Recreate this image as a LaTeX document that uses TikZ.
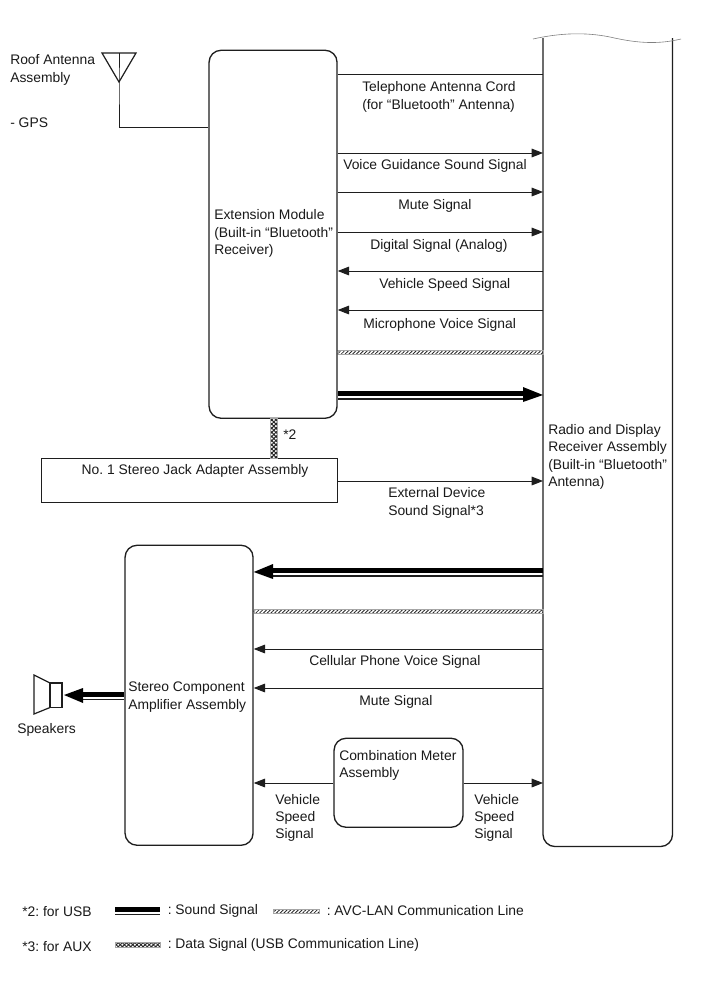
\documentclass[tikz,border=0pt]{standalone}
\usepackage{fontspec}
\setmainfont{Liberation Sans}
\usetikzlibrary{arrows.meta,patterns.meta}
\definecolor{ink}{HTML}{1E1E1E}
\definecolor{txt}{HTML}{1A1A1A}
\tikzset{
  x=0.75pt,y=-0.75pt,
  lbl/.style={anchor=west,align=left,inner sep=0pt,text=txt,font=\fontsize{10.4pt}{13pt}\selectfont\frenchspacing},
  clbl/.style={lbl,anchor=center,align=center},
  box/.style={draw=ink,line width=1pt,rounded corners=9pt,inner sep=0pt,anchor=north west},
  wire/.style={draw=ink,line width=0.7pt},
  sig/.style={wire,-{Stealth[length=8.5pt,width=6.5pt,inset=0pt]}},
  avc/.style={draw=gray!70,line width=0.3pt,pattern={Lines[angle=45,distance=2pt,line width=0.65pt]},pattern color=black!85},
  data/.style={draw=gray!70,line width=0.3pt,pattern={Hatch[angle=45,distance=2.2pt,line width=0.75pt]},pattern color=black!85},
}
\begin{document}
\begin{tikzpicture}
\useasboundingbox (0,0) rectangle (713,982);
\fill[white] (0,0) rectangle (713,982);

% Boxes
\node[box,minimum width=96pt,minimum height=276pt] (ext) at (208.4,49.6) {};
\node[lbl] (exttxt) at (214,233.5) {Extension Module\\(Built-in “Bluetooth”\\Receiver)};
\node[box,rounded corners=0pt,minimum width=222pt,minimum height=33pt] (jack) at (40.6,457.6) {};
\node[clbl] (jacktxt) at (195,471) {No. 1 Stereo Jack Adapter Assembly};
\node[box,minimum width=96pt,minimum height=225pt] (amp) at (124.4,544.6) {};
\node[lbl] (amptxt) at (128,697) {Stereo Component\\Amplifier Assembly};
\node[box,minimum width=96.75pt,minimum height=66.75pt] (meter) at (333.4,737.6) {};
\node[lbl] (metertxt) at (339,765.5) {Combination Meter\\Assembly};

% Radio: open at the top
\node[inner sep=0pt,minimum width=96.75pt,minimum height=606pt,anchor=north west] (radio) at (543,38) {};
\draw[ink,line width=1pt,rounded corners=9pt] (radio.north west) -- (radio.south west) -- (radio.south east) -- (radio.north east);
\draw[gray,line width=0.45pt] (533,39) .. controls (560,33) and (585,32) .. (610,37)
   .. controls (640,44) and (660,44) .. (681,39);
\node[lbl] (radiotxt) at (548,457) {Radio and Display\\Receiver Assembly\\(Built-in “Bluetooth”\\Antenna)};

% Antenna
\coordinate (antL) at (102,53);
\coordinate (antR) at (136,53);
\coordinate (antT) at (119,82);
\coordinate (antTop) at (119,53);
\draw[ink,line width=0.9pt,line join=miter] (antL) -- (antR) -- (antT) -- cycle;
\draw[wire] (antTop) -- (antT) |- (ext.west |- 0,127);
\node[lbl] (roof) at (10,70) {Roof Antenna\\Assembly};
\node[lbl] (gps) at (10,122.5) {- GPS};

% Signal lines from the extension module
\draw[wire] (ext.east |- 0,74) -- (radio.west |- 0,74);
\node[lbl] (tel) at (362,97) {Telephone Antenna Cord\\(for “Bluetooth” Antenna)};
\draw[sig] (ext.east |- 0,153) -- (radio.west |- 0,153);
\node[lbl] (voice) at (343,166) {Voice Guidance Sound Signal};
\draw[sig] (ext.east |- 0,192) -- (radio.west |- 0,192);
\node[lbl] (mute1) at (398,206) {Mute Signal};
\draw[sig] (ext.east |- 0,232) -- (radio.west |- 0,232);
\node[lbl] (digital) at (370,246) {Digital Signal (Analog)};
\draw[sig] (radio.west |- 0,271) -- (ext.east |- 0,271);
\node[lbl] (speed) at (379,285) {Vehicle Speed Signal};
\draw[sig] (radio.west |- 0,310) -- (ext.east |- 0,310);
\node[lbl] (mic) at (363,325) {Microphone Voice Signal};

% AVC-LAN, upper
\path[avc] (ext.east |- 0,350) rectangle (radio.west |- 0,354);

% Sound signal, upper
\fill[black] (ext.east |- 0,391) rectangle (524,395.5);
\fill[ink] (ext.east |- 0,398) rectangle (524,399.5);
\fill[black] (radio.west |- 0,395) -- (523,387) -- (523,402) -- cycle;

% Data USB
\path[data] (270,418) rectangle (277,458);
\node[lbl] (st2) at (283,435) {*2};

% External device
\draw[sig] (jack.east |- 0,481) -- (radio.west |- 0,481);
\node[lbl] (extdev) at (388,503) {External Device\\Sound Signal*3};

% Sound signal, lower
\fill[black] (radio.west |- 0,568) rectangle (273,572.5);
\fill[ink] (radio.west |- 0,575) rectangle (273,576.5);
\fill[black] (amp.east |- 0,572) -- (273,564) -- (273,579) -- cycle;

% AVC-LAN, lower
\path[avc] (amp.east |- 0,609) rectangle (radio.west |- 0,613);

\draw[sig] (radio.west |- 0,649) -- (amp.east |- 0,649);
\node[lbl] (cell) at (309,662) {Cellular Phone Voice Signal};
\draw[sig] (radio.west |- 0,688) -- (amp.east |- 0,688);
\node[lbl] (mute2) at (359,702) {Mute Signal};

% Combination meter
\draw[sig] (meter.west |- 0,783) -- (amp.east |- 0,783);
\draw[sig] (meter.east |- 0,783) -- (radio.west |- 0,783);
\node[lbl] (vss1) at (275,818) {Vehicle\\Speed\\Signal};
\node[lbl] (vss2) at (474,818) {Vehicle\\Speed\\Signal};

% Speaker
\coordinate (spkA) at (50,683);
\coordinate (spkB) at (62,683);
\coordinate (spkC) at (62,707.5);
\coordinate (spkD) at (50,707.5);
\draw[ink,line width=0.9pt,line join=miter] (spkA) -- (spkB) -- (spkC) -- (spkD) -- cycle;
\draw[ink,line width=0.9pt,line join=miter] (spkA) -- (34,675) -- (34,714) -- (spkD);
\fill[black] (amp.west |- 0,692) rectangle (82,696.5);
\fill[ink] (amp.west |- 0,698.5) rectangle (82,700);
\fill[black] (64,695) -- (83,688) -- (83,703) -- cycle;
\node[lbl] (spk) at (17,730) {Speakers};

% Legend
\node[lbl] (n2) at (22,911.5) {*2: for USB};
\fill[black] (115,907) rectangle (160,911.5);
\fill[ink] (115,913.5) rectangle (160,915);
\node[lbl] (lsound) at (167.5,911) {: Sound Signal};
\path[avc] (273.5,909) rectangle (319,913);
\node[lbl] (lavc) at (326.5,911) {: AVC-LAN Communication Line};
\node[lbl] (n3) at (22,946.5) {*3: for AUX};
\path[data] (115,942.5) rectangle (160,947.5);
\node[lbl] (ldata) at (167.5,945) {: Data Signal (USB Communication Line)};
\end{tikzpicture}
\end{document}
